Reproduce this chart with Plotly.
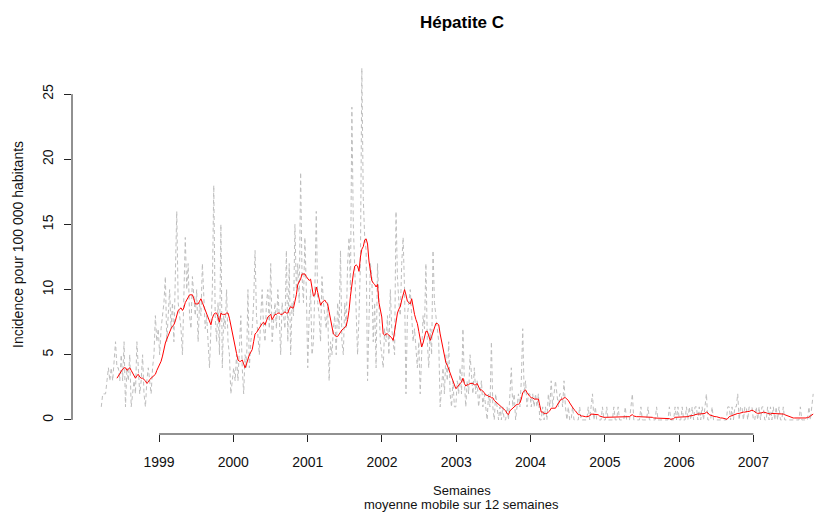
import pandas as pd
import plotly.graph_objects as go

# Weekly incidence (per 100 000), starting week of 1998-03-23
weekly_incidence = [
    1, 2, 2, 2, 3, 4, 3, 4, 3, 5, 6, 4,
    4, 3, 5, 3, 6, 1, 4, 3, 5, 1, 2, 3,
    2, 6, 4, 2, 3, 5, 2, 1, 3, 4, 3, 2,
    4, 5, 8, 6, 7,
    5, 7, 8, 9, 11, 6, 8, 10, 7, 9, 6, 10,
    16, 9, 8, 7, 5, 9, 14, 10, 12, 8, 7, 11,
    9, 8, 10, 6, 9, 8, 12, 9, 7, 8, 6, 4,
    7, 10, 18, 8, 6, 9, 5, 15, 4, 8, 7, 10,
    6, 5, 2, 3,
    4, 3, 5, 3, 6, 8, 4, 2, 5, 4, 10, 4,
    6, 7, 9, 13, 8, 6, 5, 8, 10, 7, 6, 9,
    10, 7, 12, 6, 8, 9, 7, 10, 8, 5, 9, 8,
    7, 13, 6, 12, 5, 9, 8, 15, 10, 12, 9, 19,
    11, 9, 14, 10,
    4, 8, 10, 5, 6, 10, 16, 9, 8, 6, 11, 9,
    8, 7, 9, 3, 6, 5, 7, 8, 5, 9, 7, 13,
    6, 5, 9, 7, 12, 14, 10, 24, 15, 11, 9, 5,
    8, 12, 27, 17, 14, 13, 3, 9, 12, 11, 6, 9,
    4, 12, 8, 6,
    5, 4, 7, 6, 8, 5, 10, 7, 6, 5, 16, 11,
    9, 8, 12, 14, 10, 2, 8, 9, 10, 8, 6, 7,
    5, 4, 6, 2, 5, 8, 7, 12, 6, 4, 7, 5,
    13, 9, 8, 7, 6, 1, 3, 4, 2, 5, 3, 6,
    2, 1, 3, 1,
    1, 3, 2, 4, 2, 7, 3, 1, 3, 2, 5, 3,
    2, 4, 2, 3, 1, 2, 3, 1, 2, 1, 0, 2,
    1, 6, 1, 0, 2, 1, 0, 1, 0, 1, 0, 0,
    1, 0, 2, 4, 1, 2, 0, 1, 2, 1, 3, 7,
    2, 3, 1, 2,
    2, 1, 2, 1, 2, 1, 2, 0, 0, 1, 0, 1,
    0, 2, 1, 3, 1, 2, 3, 2, 1, 2, 2, 1,
    3, 1, 0, 1, 0, 0, 1, 0, 0, 0, 0, 1,
    0, 0, 0, 0, 0, 1, 0, 1, 2, 0, 1, 0,
    0, 0, 0, 1,
    0, 0, 1, 0, 0, 0, 0, 1, 0, 0, 1, 0,
    0, 0, 0, 1, 0, 0, 0, 1, 2, 0, 0, 0,
    0, 0, 1, 0, 0, 0, 0, 1, 0, 0, 0, 0,
    0, 1, 0, 0, 0, 0, 0, 0, 0, 0, 1, 0,
    0, 0, 1, 0, 1,
    0, 0, 1, 0, 0, 1, 0, 1, 0, 1, 0, 1,
    1, 0, 1, 0, 1, 0, 1, 2, 0, 0, 0, 1,
    0, 0, 0, 0, 0, 0, 0, 0, 0, 0, 1, 1,
    0, 1, 0, 1, 1, 2, 0, 1, 1, 0, 1, 1,
    0, 1, 1, 1,
    0, 0, 1, 0, 1, 0, 1, 1, 0, 0, 1, 0,
    1, 0, 1, 0, 1, 0, 1, 0, 0, 1, 0, 0,
    0, 0, 0, 0, 0, 0, 0, 0, 0, 1, 0, 0,
    0, 0, 0, 1, 0, 1, 2,
]

# 12-week moving average (red line), from the 12th week on
moving_avg_12 = [
    3.2, 3.4, 3.6, 3.7, 3.9, 4.0, 4.0, 3.8, 3.9, 4.0,
    3.8, 3.6, 3.4, 3.2, 3.4, 3.5, 3.3, 3.2, 3.2, 3.1,
    3.0, 2.8, 2.9, 3.1, 3.2, 3.3, 3.4, 3.5, 3.8, 4.0,
    4.2, 4.5, 4.9, 5.5, 5.9, 6.2, 6.5, 6.8, 7.0, 7.2,
    7.3, 7.6, 8.0, 8.4, 8.5, 8.6, 8.4, 8.6, 9.0, 9.2,
    9.4, 9.6, 9.6, 9.6, 9.3, 8.9, 8.9, 8.9, 9.1, 9.3,
    9.0, 8.7, 8.4, 8.1, 7.9, 7.6, 7.3, 7.8, 8.1, 8.2,
    8.2, 7.9, 7.5, 8.2, 8.1, 8.1, 8.1, 8.2, 8.2, 7.8,
    7.2, 6.8, 6.2, 5.7, 5.1, 4.6, 4.5, 4.5, 4.6, 4.3,
    4.0, 4.3, 4.7, 5.0, 5.2, 5.4, 6.0, 6.6, 6.7, 6.9,
    7.0, 7.3, 7.4, 7.5, 7.3, 7.6, 7.9, 8.0, 8.1, 7.7,
    7.9, 8.1, 8.1, 8.2, 8.2, 8.1, 8.1, 8.2, 8.3, 8.2,
    8.2, 8.5, 8.7, 8.6, 8.6, 9.1, 9.6, 10.4, 10.6, 10.8,
    11.2, 11.2, 11.2, 11.0, 10.8, 10.7, 10.8, 10.0, 9.5, 9.6,
    10.2, 9.8, 9.3, 8.8, 9.0, 9.1, 9.2, 9.0, 8.9, 8.3,
    7.8, 7.2, 6.6, 6.5, 6.4, 6.4, 6.6, 6.8, 6.9, 7.0,
    7.1, 7.2, 7.7, 8.4, 9.5, 10.5, 11.2, 11.8, 11.9, 11.8,
    11.4, 12.5, 13.1, 13.3, 13.8, 13.9, 13.5, 12.2, 11.3, 10.7,
    10.5, 10.4, 10.2, 10.4, 9.0, 8.3, 7.9, 6.6, 6.5, 6.6,
    6.6, 6.5, 6.4, 6.3, 6.1, 6.9, 7.8, 8.2, 8.5, 8.7,
    9.2, 9.7, 10.0, 9.6, 9.1, 9.0, 8.9, 9.3, 8.6, 8.1,
    7.7, 7.4, 6.8, 6.1, 5.6, 5.9, 6.3, 6.8, 6.8, 6.4,
    6.1, 6.4, 6.7, 7.1, 7.4, 7.4, 7.3, 6.6, 6.0, 5.3,
    4.7, 4.4, 4.2, 3.9, 3.6, 3.3, 2.9, 2.6, 2.4, 2.5,
    2.7, 2.8, 2.9, 3.2, 2.8, 2.6, 2.7, 2.7, 2.8, 2.8,
    2.8, 2.7, 2.7, 2.8, 2.5, 2.3, 2.3, 2.2, 2.1, 1.9,
    1.9, 1.8, 1.8, 1.7, 1.7, 1.5, 1.4, 1.3, 1.2, 1.1,
    1.0, 0.9, 0.8, 0.7, 0.5, 0.4, 0.7, 0.8, 0.9, 1.0,
    1.1, 1.2, 1.2, 1.3, 1.6, 2.1, 2.2, 2.3, 2.1, 1.9,
    1.8, 1.7, 1.7, 1.6, 1.6, 1.6, 1.6, 1.1, 0.6, 0.6,
    0.5, 0.5, 0.5, 0.6, 0.7, 0.9, 0.9, 0.9, 0.9, 1.1,
    1.3, 1.4, 1.6, 1.6, 1.7, 1.7, 1.6, 1.5, 1.3, 1.1,
    0.9, 0.8, 0.7, 0.5, 0.4, 0.4, 0.3, 0.3, 0.25, 0.25,
    0.25, 0.25, 0.3, 0.45, 0.45, 0.45, 0.45, 0.45, 0.4, 0.3,
    0.25, 0.25, 0.2, 0.2, 0.2, 0.2, 0.2, 0.2, 0.2, 0.2,
    0.2, 0.2, 0.2, 0.2, 0.2, 0.2, 0.2, 0.2, 0.2, 0.2,
    0.25, 0.35, 0.4, 0.3, 0.25, 0.25, 0.25, 0.25, 0.25, 0.25,
    0.25, 0.25, 0.2, 0.2, 0.2, 0.2, 0.2, 0.15, 0.15, 0.15,
    0.15, 0.15, 0.15, 0.1, 0.1, 0.1, 0.1, 0.1, 0.1, 0.05,
    0.05, 0.1, 0.2, 0.2, 0.2, 0.2, 0.2, 0.2, 0.2, 0.25,
    0.25, 0.25, 0.3, 0.3, 0.3, 0.35, 0.4, 0.45, 0.45, 0.45,
    0.45, 0.5, 0.5, 0.5, 0.6, 0.55, 0.4, 0.35, 0.3, 0.3,
    0.25, 0.25, 0.2, 0.2, 0.15, 0.15, 0.15, 0.1, 0.05, 0.1,
    0.25, 0.3, 0.35, 0.4, 0.4, 0.45, 0.5, 0.5, 0.55, 0.6,
    0.6, 0.6, 0.65, 0.65, 0.65, 0.7, 0.75, 0.7, 0.6, 0.55,
    0.5, 0.5, 0.5, 0.55, 0.6, 0.6, 0.55, 0.5, 0.45, 0.45,
    0.5, 0.5, 0.5, 0.5, 0.5, 0.45, 0.45, 0.45, 0.45, 0.4,
    0.35, 0.3, 0.25, 0.2, 0.2, 0.15, 0.15, 0.15, 0.15, 0.1,
    0.1, 0.1, 0.1, 0.1, 0.15, 0.2, 0.2, 0.3, 0.4, 0.45,
]

start_week = "1998-03-23"
ma_window = 12
year_ticks = [1999, 2000, 2001, 2002, 2003, 2004, 2005, 2006, 2007]
y_ticks = [0, 5, 10, 15, 20, 25]

dates = pd.date_range(start_week, periods=len(weekly_incidence), freq="7D")
ma_dates = dates[ma_window - 1: ma_window - 1 + len(moving_avg_12)]

FONT = "Liberation Sans, Arial, Helvetica, sans-serif"

fig = go.Figure()
fig.add_trace(go.Scatter(
    x=dates, y=weekly_incidence, mode="lines",
    line=dict(color="#BEBEBE", width=1, dash="4px,3px"),
    hoverinfo="skip",
))
fig.add_trace(go.Scatter(
    x=ma_dates, y=moving_avg_12, mode="lines",
    line=dict(color="#FF0000", width=1),
    hoverinfo="skip",
))

tick_dates = [f"{y}-01-01" for y in year_ticks]

fig.update_layout(
    width=814, height=513,
    margin=dict(l=72, r=0, t=54, b=79),
    paper_bgcolor="white", plot_bgcolor="white",
    showlegend=False,
    font=dict(family=FONT, size=14, color="#000"),
    xaxis=dict(
        type="date",
        range=["1997-10-30", "2007-10-26"],
        tickvals=tick_dates, ticktext=[str(y) for y in year_ticks],
        ticks="outside", ticklen=7, tickwidth=1, tickcolor="#222",
        showgrid=False, zeroline=False, showline=False,
        tickfont=dict(family=FONT, size=14, color="#111"),
        ticklabelstandoff=8,
    ),
    yaxis=dict(
        range=[-1.08, 28.08],
        tickvals=y_ticks, ticktext=[str(v) for v in y_ticks],
        tickangle=-90,
        ticks="outside", ticklen=7, tickwidth=1, tickcolor="#222",
        showgrid=False, zeroline=False, showline=False,
        tickfont=dict(family=FONT, size=14, color="#111"),
        ticklabelstandoff=5,
    ),
    shapes=[
        dict(type="line", xref="x", yref="paper",
             x0=tick_dates[0], x1=tick_dates[-1], y0=0, y1=0,
             line=dict(color="#222", width=1)),
        dict(type="line", xref="paper", yref="y",
             x0=0, x1=0, y0=y_ticks[0], y1=y_ticks[-1],
             line=dict(color="#222", width=1)),
    ],
    annotations=[
        dict(text="<b>Hépatite C</b>", xref="paper", yref="paper",
             x=0.5256, y=1.084, xanchor="center", yanchor="middle",
             showarrow=False, font=dict(family=FONT, size=17, color="#000")),
        dict(text="Incidence pour 100 000 habitants", xref="paper", yref="paper",
             x=-0.0728, y=0.5, xanchor="center", yanchor="middle", textangle=-90,
             showarrow=False, font=dict(family=FONT, size=14, color="#111")),
        dict(text="Semaines", xref="paper", yref="paper",
             x=0.5256, y=-0.1474, xanchor="center", yanchor="middle",
             borderpad=0,
             showarrow=False, font=dict(family=FONT, size=13, color="#111")),
        dict(text="moyenne mobile sur 12 semaines", xref="paper", yref="paper",
             x=0.5256, y=-0.1868, xanchor="center", yanchor="middle",
             borderpad=0,
             showarrow=False, font=dict(family=FONT, size=13, color="#111")),
    ],
)

fig.write_html("out.html")
